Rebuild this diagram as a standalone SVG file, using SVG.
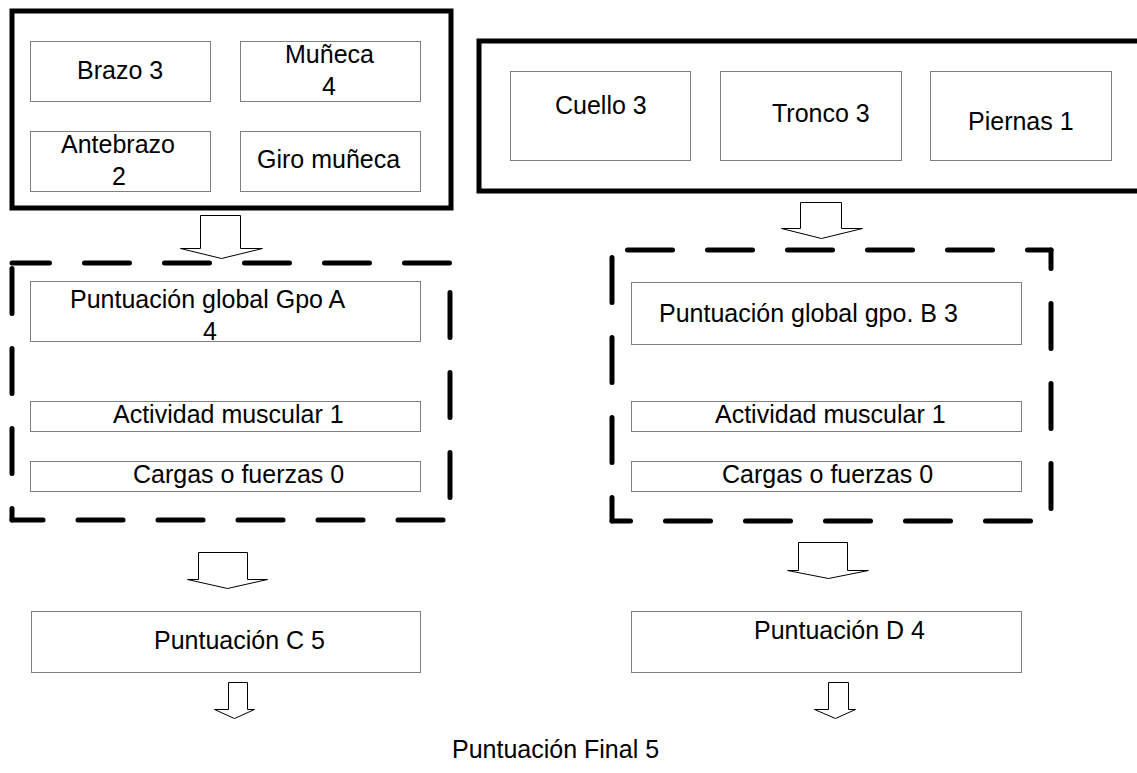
<svg xmlns="http://www.w3.org/2000/svg" width="1137" height="773" viewBox="0 0 1137 773">
<style>
  text { font-family: "Liberation Sans", Arial, sans-serif; font-size: 25px; fill: #000; }
  .thick { fill: none; stroke: #000; stroke-width: 5; }
  .box { fill: #fff; stroke: #7f7f7f; stroke-width: 1; }
  .dash { fill: none; stroke: #000; stroke-width: 5; stroke-linecap: round; stroke-dasharray: 45 35; }
  .arrow { fill: #fff; stroke: #000; stroke-width: 1; stroke-linejoin: miter; }
</style>
<rect width="1137" height="773" fill="#fff"/>

<g id="grupoA">
  <rect class="thick" x="12" y="11" width="439" height="197"/>
  <g id="brazo"><rect class="box" x="30.5" y="41.5" width="180" height="60"/><text x="77" y="79">Brazo 3</text></g>
  <g id="muneca"><rect class="box" x="240.5" y="41.5" width="180" height="60"/><text x="285" y="63">Muñeca</text><text x="322" y="95">4</text></g>
  <g id="antebrazo"><rect class="box" x="30.5" y="131.5" width="180" height="60"/><text x="61" y="153">Antebrazo</text><text x="112" y="185">2</text></g>
  <g id="giro"><rect class="box" x="240.5" y="131.5" width="180" height="60"/><text x="257" y="168">Giro muñeca</text></g>
</g>

<g id="grupoB">
  <rect class="thick" x="479" y="41" width="700" height="150"/>
  <g id="cuello"><rect class="box" x="510.5" y="71.5" width="180" height="89"/><text x="555" y="114">Cuello 3</text></g>
  <g id="tronco"><rect class="box" x="720.5" y="71.5" width="181" height="89"/><text x="772" y="122">Tronco 3</text></g>
  <g id="piernas"><rect class="box" x="930.5" y="71.5" width="181" height="89"/><text x="968" y="130">Piernas 1</text></g>
</g>

<g id="puntuacionA">
  <line class="dash" x1="12" y1="263" x2="450" y2="263" stroke-dashoffset="7.5"/>
  <line class="dash" x1="450" y1="263" x2="450" y2="520" stroke-dashoffset="50.5"/>
  <line class="dash" x1="12" y1="520" x2="450" y2="520" stroke-dashoffset="14"/>
  <line class="dash" x1="12" y1="263" x2="12" y2="520" stroke-dashoffset="74.5"/>
  <g id="globalA"><rect class="box" x="30.5" y="281.5" width="390" height="60"/><text x="70" y="308">Puntuación global Gpo A</text><text x="203" y="340">4</text></g>
  <g id="actividadA"><rect class="box" x="30.5" y="401.5" width="390" height="30"/><text x="113" y="423">Actividad muscular 1</text></g>
  <g id="cargasA"><rect class="box" x="30.5" y="461.5" width="390" height="30"/><text x="133" y="483">Cargas o fuerzas 0</text></g>
</g>

<g id="puntuacionB">
  <line class="dash" x1="612" y1="250" x2="1051" y2="250" stroke-dashoffset="64.5"/>
  <line class="dash" x1="1051" y1="250" x2="1051" y2="521" stroke-dashoffset="26.5"/>
  <line class="dash" x1="612" y1="521" x2="1051" y2="521" stroke-dashoffset="26.5"/>
  <line class="dash" x1="612" y1="250" x2="612" y2="521" stroke-dashoffset="72.5"/>
  <g id="globalB"><rect class="box" x="631.5" y="282.5" width="390" height="62"/><text x="659" y="322">Puntuación global gpo. B 3</text></g>
  <g id="actividadB"><rect class="box" x="631.5" y="401.5" width="390" height="30"/><text x="715" y="423">Actividad muscular 1</text></g>
  <g id="cargasB"><rect class="box" x="631.5" y="461.5" width="390" height="30"/><text x="722" y="483">Cargas o fuerzas 0</text></g>
</g>

<g id="puntuacionC"><rect class="box" x="31.5" y="611.5" width="389" height="61"/><text x="154" y="649">Puntuación C 5</text></g>
<g id="puntuacionD"><rect class="box" x="631.5" y="611.5" width="390" height="61"/><text x="754" y="639">Puntuación D 4</text></g>
<g id="final"><text x="452" y="758">Puntuación Final 5</text></g>

<g id="connectors">
  <polygon class="arrow" points="200.5,215.5 240.5,215.5 240.5,248.5 262.5,248.5 221.5,258.5 180.5,248.5 200.5,248.5"/>
  <polygon class="arrow" points="800.5,202.5 841.5,202.5 841.5,228.5 862.5,228.5 821.5,238.5 781.5,228.5 800.5,228.5"/>
  <polygon class="arrow" points="198.5,552.5 247.5,552.5 247.5,579.5 267.5,579.5 227.5,588.5 187.5,579.5 198.5,579.5"/>
  <polygon class="arrow" points="798.5,542.5 847.5,542.5 847.5,570.5 868.5,570.5 828.5,578.5 787.5,570.5 798.5,570.5"/>
  <polygon class="arrow" points="228.5,682.5 247.5,682.5 247.5,709.5 254.5,709.5 234.5,718.5 214.5,709.5 228.5,709.5" stroke="#555"/>
  <polygon class="arrow" points="828.5,682.5 848.5,682.5 848.5,709.5 855.5,709.5 835.5,718.5 814.5,709.5 828.5,709.5" stroke="#555"/>
</g>
</svg>
